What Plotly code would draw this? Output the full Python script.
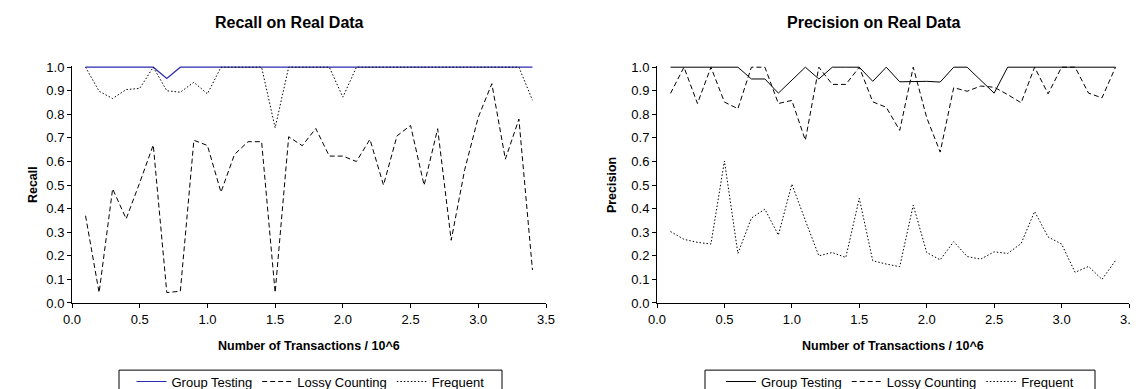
import plotly.graph_objects as go

# ---------------- data ----------------
x_vals = [0.1, 0.2, 0.3, 0.4, 0.5, 0.6, 0.7, 0.8, 0.9, 1.0,
          1.1, 1.2, 1.3, 1.4, 1.5, 1.6, 1.7, 1.8, 1.9, 2.0,
          2.1, 2.2, 2.3, 2.4, 2.5, 2.6, 2.7, 2.8, 2.9, 3.0,
          3.1, 3.2, 3.3, 3.4]

recall_group = [1.0, 1.0, 1.0, 1.0, 1.0, 1.0, 0.952, 1.0, 1.0, 1.0,
                1.0, 1.0, 1.0, 1.0, 1.0, 1.0, 1.0, 1.0, 1.0, 1.0,
                1.0, 1.0, 1.0, 1.0, 1.0, 1.0, 1.0, 1.0, 1.0, 1.0,
                1.0, 1.0, 1.0, 1.0]
recall_lossy = [0.37, 0.044, 0.484, 0.357, 0.51, 0.67, 0.044, 0.05, 0.69, 0.668,
                0.47, 0.63, 0.684, 0.684, 0.044, 0.705, 0.667, 0.74, 0.623, 0.623,
                0.60, 0.694, 0.50, 0.709, 0.753, 0.499, 0.739, 0.266, 0.566, 0.788,
                0.93, 0.61, 0.78, 0.14]
recall_freq = [1.0, 0.898, 0.867, 0.905, 0.91, 1.0, 0.90, 0.894, 0.936, 0.887,
               1.0, 1.0, 1.0, 1.0, 0.743, 1.0, 1.0, 1.0, 1.0, 0.873,
               1.0, 1.0, 1.0, 1.0, 1.0, 1.0, 1.0, 1.0, 1.0, 1.0,
               1.0, 1.0, 1.0, 0.86]

prec_group = [1.0, 1.0, 1.0, 1.0, 1.0, 1.0, 0.95, 0.95, 0.89, 0.945,
              1.0, 0.95, 1.0, 1.0, 1.0, 0.94, 1.0, 0.938, 0.94, 0.94,
              0.937, 1.0, 1.0, 0.945, 0.89, 1.0, 1.0, 1.0, 1.0, 1.0,
              1.0, 1.0, 1.0, 1.0]
prec_lossy = [0.889, 1.0, 0.846, 1.0, 0.852, 0.824, 1.0, 1.0, 0.846, 0.859,
              0.69, 1.0, 0.927, 0.927, 1.0, 0.853, 0.83, 0.732, 1.0, 0.786,
              0.64, 0.913, 0.898, 0.92, 0.915, 0.884, 0.849, 1.0, 0.887, 1.0,
              1.0, 0.89, 0.87, 1.0]
prec_freq = [0.303, 0.27, 0.257, 0.25, 0.602, 0.21, 0.36, 0.398, 0.288, 0.504,
             0.35, 0.20, 0.214, 0.193, 0.444, 0.179, 0.165, 0.154, 0.415, 0.214,
             0.183, 0.26, 0.197, 0.186, 0.217, 0.21, 0.252, 0.388, 0.28, 0.25,
             0.13, 0.155, 0.10, 0.18]

series_names = ["Group Testing", "Lossy Counting", "Frequent"]
x_ticks = [0.0, 0.5, 1.0, 1.5, 2.0, 2.5, 3.0, 3.5]
y_ticks = [0.0, 0.1, 0.2, 0.3, 0.4, 0.5, 0.6, 0.7, 0.8, 0.9, 1.0]
titles = ["Recall on Real Data", "Precision on Real Data"]
y_titles = ["Recall", "Precision"]
x_title = "Number of Transactions / 10^6"

# ---------------- layout helpers ----------------
W, H = 1139, 389
FONT = "Liberation Sans, Arial, sans-serif"


def px_x(p):
    return p / W


def px_y(p):
    return 1 - p / H


# a little headroom above 1.0 so lines at 1.0 are not half-clipped
y_max = 1.006
plot_bot = 296.5
one_px = 59.5                                   # pixel row of y = 1.0
plot_top = plot_bot - (plot_bot - one_px) * y_max
left_px = (64, 538)
right_px = (649, 1121)
left_dom = [px_x(left_px[0]), px_x(left_px[1])]
right_dom = [px_x(right_px[0]), px_x(right_px[1])]
legend_boxes = [(111, 494), (697, 1087)]
legend_top, legend_bot = 364, 387

fig = go.Figure()

dash_style = "5px,3px"
dot_style = "1.5px,2px"
gt_blue = "#2b2bb0"

# left chart
fig.add_trace(go.Scatter(x=x_vals, y=recall_group, mode="lines", name=series_names[0],
                         line=dict(color=gt_blue, width=1.2), xaxis="x", yaxis="y", legend="legend"))
fig.add_trace(go.Scatter(x=x_vals, y=recall_lossy, mode="lines", name=series_names[1],
                         line=dict(color="#000000", width=1, dash=dash_style), xaxis="x", yaxis="y", legend="legend"))
fig.add_trace(go.Scatter(x=x_vals, y=recall_freq, mode="lines", name=series_names[2],
                         line=dict(color="#000000", width=1, dash=dot_style), xaxis="x", yaxis="y", legend="legend"))
# right chart
fig.add_trace(go.Scatter(x=x_vals, y=prec_group, mode="lines", name=series_names[0],
                         line=dict(color="#000000", width=1), xaxis="x2", yaxis="y2", legend="legend2"))
fig.add_trace(go.Scatter(x=x_vals, y=prec_lossy, mode="lines", name=series_names[1],
                         line=dict(color="#000000", width=1, dash=dash_style), xaxis="x2", yaxis="y2", legend="legend2"))
fig.add_trace(go.Scatter(x=x_vals, y=prec_freq, mode="lines", name=series_names[2],
                         line=dict(color="#000000", width=1, dash=dot_style), xaxis="x2", yaxis="y2", legend="legend2"))

axis_common = dict(showline=True, linecolor="#000000", linewidth=1, showgrid=False, zeroline=False,
                   ticks="outside", ticklen=4, tickcolor="#000000", tickwidth=1,
                   tickfont=dict(family=FONT, size=13, color="#000000"), tickformat=".1f",
                   automargin=False, fixedrange=True)

xaxis_cfg = dict(axis_common, range=[0, 3.5], tickmode="array", tickvals=x_ticks)
yaxis_cfg = dict(axis_common, range=[0, y_max], tickmode="array", tickvals=y_ticks)

legend_common = dict(orientation="h", borderwidth=0, bgcolor="rgba(0,0,0,0)",
                     font=dict(family=FONT, size=13, color="#000000"), xanchor="center", yanchor="middle",
                     tracegroupgap=0, itemwidth=30)

centers = [(left_px[0] + left_px[1]) / 2, (right_px[0] + right_px[1]) / 2]
leg_mid_y = (legend_top + legend_bot) / 2

fig.update_layout(
    width=W, height=H,
    margin=dict(l=0, r=0, t=0, b=0),
    paper_bgcolor="#ffffff", plot_bgcolor="#ffffff",
    xaxis=dict(xaxis_cfg, domain=left_dom, anchor="y"),
    yaxis=dict(yaxis_cfg, domain=[px_y(plot_bot), px_y(plot_top)], anchor="x"),
    xaxis2=dict(xaxis_cfg, domain=right_dom, anchor="y2"),
    yaxis2=dict(yaxis_cfg, domain=[px_y(plot_bot), px_y(plot_top)], anchor="x2"),
    legend=dict(legend_common, x=px_x(sum(legend_boxes[0]) / 2), y=px_y(leg_mid_y)),
    legend2=dict(legend_common, x=px_x(sum(legend_boxes[1]) / 2), y=px_y(leg_mid_y)),
    showlegend=True,
)

# legend frames
shapes = []
for (x0, x1) in legend_boxes:
    shapes.append(dict(type="rect", xref="paper", yref="paper",
                       x0=px_x(x0), x1=px_x(x1), y0=px_y(legend_bot), y1=px_y(legend_top),
                       line=dict(color="#000000", width=1), fillcolor="rgba(0,0,0,0)", layer="below"))
fig.update_layout(shapes=shapes)

annotations = []
ylab_x = [25, 604]
mid_y = (one_px + plot_bot) / 2
for i in range(2):
    annotations.append(dict(text="<b>%s</b>" % titles[i], x=px_x(centers[i] - 20), y=px_y(15),
                            xref="paper", yref="paper", showarrow=False, xanchor="center", yanchor="middle",
                            font=dict(family=FONT, size=16, color="#000000")))
    annotations.append(dict(text="<b>%s</b>" % x_title, x=px_x(centers[i]), y=px_y(340),
                            xref="paper", yref="paper", showarrow=False, xanchor="center", yanchor="middle",
                            font=dict(family=FONT, size=12.5, color="#000000")))
    annotations.append(dict(text="<b>%s</b>" % y_titles[i], x=px_x(ylab_x[i]), y=px_y(mid_y),
                            xref="paper", yref="paper", showarrow=False, xanchor="center", yanchor="middle",
                            textangle=-90, font=dict(family=FONT, size=12.5, color="#000000")))
fig.update_layout(annotations=annotations)

fig.write_html("out.html")
